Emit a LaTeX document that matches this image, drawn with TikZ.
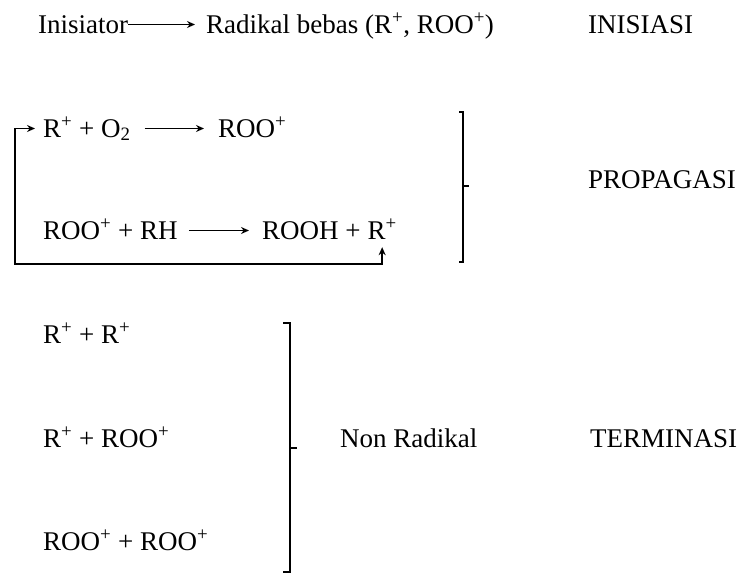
\documentclass[tikz,border=0pt]{standalone}
\usepackage{fontspec}
\setmainfont{Liberation Serif}
\usetikzlibrary{arrows.meta,positioning}
\begin{document}
\begin{tikzpicture}[x=1pt,y=-1pt,font=\fontsize{27}{31}\selectfont,
  term/.style={anchor=west,inner sep=0pt,text height=17pt,text depth=0pt},
  rxn/.style={-{Stealth[length=8pt,width=7pt]},line width=1.5pt},
  brk/.style={line width=1.6pt}]
\useasboundingbox (0,0) rectangle (739,573);
% inisiasi
\node[term] (ini) at (38,24.5) {Inisiator};
\node[term] (rad) at (206,24.5) {Radikal bebas (R\textsuperscript{+}, ROO\textsuperscript{+})};
\node[term] (lbini) at (588,24.5) {INISIASI};
\draw[rxn,shorten >=11pt] (ini) -- (rad);
% propagasi
\node[term] (ra) at (43,128.5) {R\textsuperscript{+} + O\textsubscript{2}};
\node[term] (roo) at (218,128.5) {ROO\textsuperscript{+}};
\draw[rxn,shorten <=14pt,shorten >=14pt] (ra) -- (roo);
\node[term] (roorh) at (43,230.5) {ROO\textsuperscript{+} + RH};
\node[term] (rooh) at (262,230.5) {ROOH +};
\node[term,right=6.5pt of rooh] (rb) {R\textsuperscript{+}};
\draw[rxn,shorten <=11pt,shorten >=13pt] (roorh) -- (rooh);
\coordinate (loop) at (15,264);
\draw[rxn,{Stealth[length=8pt,width=7pt]}-{Stealth[length=8pt,width=7pt]},shorten <=8pt,shorten >=8pt] (rb.south) |- (loop) |- (ra.west);
\draw[brk] (459,112) -- (463,112) -- (463,262) -- (459,262);
\draw[brk] (463,186) -- (469,186);
\node[term] (lbprop) at (588,179.5) {PROPAGASI};
% terminasi
\node[term] (rr) at (43,334.5) {R\textsuperscript{+} + R\textsuperscript{+}};
\node[term] (rroo) at (43,438.5) {R\textsuperscript{+} + ROO\textsuperscript{+}};
\node[term] (rooroo) at (43,541.5) {ROO\textsuperscript{+} + ROO\textsuperscript{+}};
\draw[brk] (283,323) -- (290,323) -- (290,572) -- (283,572);
\draw[brk] (290,448) -- (297,448);
\node[term] (nonrad) at (340,438.5) {Non Radikal};
\node[term] (lbterm) at (590,438.5) {TERMINASI};
\end{tikzpicture}
\end{document}
